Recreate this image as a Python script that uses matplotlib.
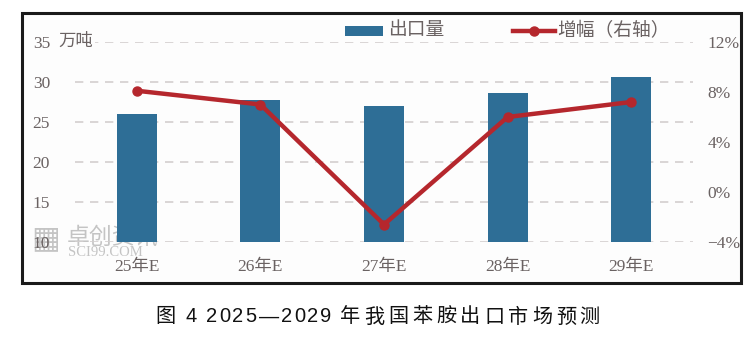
import matplotlib
matplotlib.use("Agg")
import matplotlib.pyplot as plt
from matplotlib.patches import Rectangle
from matplotlib.lines import Line2D
from matplotlib.ticker import FuncFormatter

categories = ["25年E", "26年E", "27年E", "28年E", "29年E"]
export_volume = [26.0, 27.7, 27.0, 28.6, 30.6]   # 万吨
growth_pct = [8.1, 7.0, -2.6, 6.0, 7.2]           # %
left_ticks = [10, 15, 20, 25, 30, 35]
right_ticks = [-4, 0, 4, 8, 12]
caption = "图 4 2025—2029 年我国苯胺出口市场预测"
legend_labels = ["出口量", "增幅（右轴）"]

bar_color = "#2E6E96"
line_color = "#B5272D"
text_color = "#6A6262"
grid_color = "#D3CFCF"
wm_color = "#C4C4C4"
tick_font = ["Liberation Serif", "Noto Sans CJK SC"]
W, H = 756, 347

fig = plt.figure(figsize=(W/100, H/100), dpi=100)

def fx(px):
    return px / W

def fy(py):
    return 1 - py / H

# outer frame
frame = Rectangle((fx(22), fy(283)), (741-22)/W, (283-13)/H,
                  transform=fig.transFigure, fill=True, facecolor="#FDFDFD",
                  edgecolor="#1a1a1a", linewidth=2.2, zorder=-10)
fig.patches.append(frame)

# watermark (behind the bars)
fig.text(fx(31), fy(239), "▦", fontsize=22, color=wm_color,
         family="DejaVu Sans", va="center", zorder=-5)
fig.text(fx(67), fy(237), "卓创资讯", fontsize=16.5, color=wm_color,
         family=["Noto Sans CJK SC", "DejaVu Sans"], va="center", zorder=-5)
fig.text(fx(68), fy(252.5), "SCI99.COM", fontsize=10.5, color=wm_color,
         family="Liberation Serif", va="center", zorder=-5)

ax = fig.add_axes([fx(75), fy(242), (693-75)/W, 200/H])
ax.set_facecolor("none")
x = list(range(len(categories)))
ax.bar(x, export_volume, width=0.325, color=bar_color, zorder=2)
ax.set_xlim(-0.5, len(categories)-0.5)
ax.set_ylim(10, 35)
ax.set_yticks(left_ticks)
ax.set_yticklabels([str(t) for t in left_ticks])
ax.set_xticks(x)
ax.set_xticklabels(categories)
for s in ax.spines.values():
    s.set_visible(False)
ax.tick_params(axis="both", length=0, colors=text_color, labelsize=12.5)
ax.tick_params(axis="y", pad=18)
ax.tick_params(axis="x", pad=12)
for lbl in ax.get_xticklabels() + ax.get_yticklabels():
    lbl.set_fontfamily(tick_font)
for t in left_ticks:
    ax.axhline(t, color=grid_color, linestyle=(0, (5, 4)), linewidth=1.2, zorder=1)

ax.text(-0.5 + (58-75)/123.6, 35, "万吨", ha="left", va="center", fontsize=12.5,
        color=text_color, family=tick_font, zorder=3, clip_on=False,
        bbox=dict(facecolor="#FDFDFD", edgecolor="none", pad=1.5))

ax2 = ax.twinx()
ax2.plot(x, growth_pct, color=line_color, linewidth=3.2, marker="o", markersize=6.5, zorder=4)
ax2.set_ylim(-4, 12)
ax2.set_yticks(right_ticks)
ax2.yaxis.set_major_formatter(FuncFormatter(lambda v, p: f"{v:.0f}%".replace("-", "−")))
for s in ax2.spines.values():
    s.set_visible(False)
ax2.tick_params(axis="y", length=0, colors=text_color, labelsize=12.5, pad=10.5)
for lbl in ax2.get_yticklabels():
    lbl.set_fontfamily(tick_font)

# legend drawn manually at the reference position
fig.patches.append(Rectangle((fx(345), fy(35.5)), 38/W, 9.5/H, transform=fig.transFigure,
                             facecolor=bar_color, edgecolor="none"))
fig.text(fx(388), fy(31), legend_labels[0], ha="left", va="center", fontsize=13.5,
         color=text_color, family=tick_font)
fig.lines.append(Line2D([fx(513), fx(555)], [fy(31), fy(31)], transform=fig.transFigure,
                        color=line_color, linewidth=3.2))
fig.lines.append(Line2D([fx(534)], [fy(31)], transform=fig.transFigure,
                        color=line_color, marker="o", markersize=6.5))
fig.text(fx(557), fy(31), legend_labels[1], ha="left", va="center", fontsize=13.5,
         color=text_color, family=tick_font)

# caption with letter spacing, drawn character by character
renderer = fig.canvas.get_renderer()
cx = 155
cap_font = ["Liberation Sans", "Noto Sans CJK SC"]
for ch in caption:
    if ch == " ":
        cx += 7
        continue
    t = fig.text(fx(cx), fy(317), ch, ha="left", va="center", fontsize=14.5,
                 color="#111111", family=cap_font)
    w = t.get_window_extent(renderer=renderer).width
    is_cjk = ord(ch) > 0x2E80
    cx += w + (3.8 if is_cjk else 2.0)

fig.savefig("out.png", dpi=100)
